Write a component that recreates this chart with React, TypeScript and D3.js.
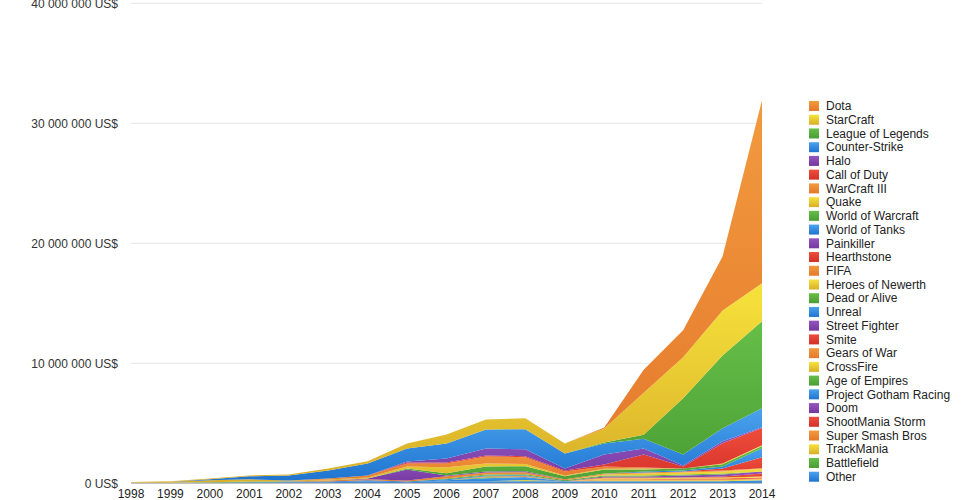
import * as d3 from 'd3'
import { useMemo } from 'react'

// prize money per game, millions of US$, 1998..2014
const years = d3.range(1998, 2015)

const dota = [0, 0, 0, 0, 0, 0, 0, 0, 0, 0, 0, 0, 0.08, 1.92, 2.25, 4.5, 15.25]
const starcraft = [0.03, 0.04, 0.08, 0.08, 0.08, 0.17, 0.17, 0.42, 0.75, 0.83, 0.92, 0.83, 1.17, 3.5, 3.42, 3.75, 3.17]
const leagueOfLegends = [0, 0, 0, 0, 0, 0, 0, 0, 0, 0, 0, 0, 0.08, 0.33, 4.67, 6.08, 7.25]
const counterStrike = [0, 0, 0.08, 0.25, 0.42, 0.67, 1.0, 1.08, 1.25, 1.58, 1.67, 1.25, 0.92, 0.83, 0.92, 1.08, 1.58]
const halo = [0, 0, 0, 0, 0, 0, 0, 0.08, 0.33, 0.58, 0.58, 0.17, 0.83, 0.5, 0.08, 0.17, 0.08]
const callOfDuty = [0, 0, 0, 0, 0, 0, 0, 0.08, 0.08, 0.08, 0.08, 0.08, 0.17, 1.08, 0.17, 1.67, 1.42]
const warcraft3 = [0, 0, 0, 0, 0, 0.08, 0.17, 0.25, 0.33, 0.58, 0.58, 0.33, 0.17, 0.08, 0, 0, 0]
const quake = [0.04, 0.08, 0.17, 0.17, 0.08, 0.08, 0.08, 0.17, 0.5, 0.25, 0.17, 0.08, 0.08, 0.08, 0, 0.08, 0.08]
const worldOfWarcraft = [0, 0, 0, 0, 0, 0, 0, 0.08, 0.17, 0.42, 0.42, 0.25, 0.33, 0.17, 0.17, 0.17, 0.17]
const worldOfTanks = [0, 0, 0, 0, 0, 0, 0, 0, 0, 0, 0, 0, 0, 0.08, 0.08, 0.17, 0.75]
const painkiller = [0, 0, 0, 0, 0, 0, 0.08, 0.92, 0.08, 0.08, 0.08, 0, 0, 0, 0, 0, 0]
const hearthstone = [0, 0, 0, 0, 0, 0, 0, 0, 0, 0, 0, 0, 0, 0, 0, 0.17, 0.92]
const fifa = [0, 0, 0, 0, 0, 0.08, 0.08, 0.08, 0.17, 0.17, 0.17, 0.08, 0.08, 0.08, 0.08, 0.08, 0.02]
const heroesOfNewerth = [0, 0, 0, 0, 0, 0, 0, 0, 0, 0, 0, 0, 0.08, 0.17, 0.17, 0.17, 0.25]
const deadOrAlive = [0, 0, 0, 0, 0, 0, 0, 0, 0.08, 0.08, 0.08, 0.08, 0.08, 0.08, 0.08, 0.08, 0]
const unreal = [0, 0, 0, 0, 0.08, 0.08, 0.08, 0.08, 0.08, 0.08, 0.08, 0, 0, 0, 0, 0, 0]
const streetFighter = [0, 0, 0, 0, 0, 0, 0, 0, 0, 0, 0, 0, 0.08, 0.08, 0.17, 0.17, 0.17]
const smite = [0, 0, 0, 0, 0, 0, 0, 0, 0, 0, 0, 0, 0, 0, 0, 0.08, 0.25]
const gearsOfWar = [0, 0, 0, 0, 0, 0, 0, 0, 0, 0.08, 0.08, 0, 0.08, 0.08, 0, 0, 0]
const crossFire = [0, 0, 0, 0, 0, 0, 0, 0, 0, 0, 0, 0, 0.08, 0.08, 0.08, 0.08, 0.08]
const ageOfEmpires = [0, 0, 0.04, 0.08, 0, 0, 0, 0, 0, 0.08, 0, 0, 0, 0, 0, 0, 0]
const projectGotham = [0, 0, 0, 0, 0, 0, 0, 0, 0.08, 0.25, 0.25, 0, 0, 0, 0, 0, 0]
const doom = [0.01, 0.01, 0, 0, 0, 0, 0, 0, 0, 0, 0, 0, 0, 0, 0, 0, 0]
const shootMania = [0, 0, 0, 0, 0, 0, 0, 0, 0, 0, 0, 0, 0, 0, 0.08, 0.08, 0.08]
const smashBros = [0, 0, 0, 0, 0, 0, 0, 0, 0, 0, 0, 0, 0.08, 0.08, 0.08, 0.08, 0.08]
const trackMania = [0, 0, 0, 0, 0, 0, 0, 0, 0, 0, 0.08, 0, 0.08, 0.08, 0.08, 0.08, 0.08]
const battlefield = [0, 0, 0, 0, 0, 0, 0, 0, 0, 0, 0.02, 0, 0, 0, 0, 0, 0]
const other = [0.02, 0.04, 0.04, 0.08, 0.08, 0.08, 0.17, 0.08, 0.17, 0.17, 0.17, 0.17, 0.17, 0.17, 0.17, 0.17, 0.25]

const series = [
  { name: 'Dota', values: dota },
  { name: 'StarCraft', values: starcraft },
  { name: 'League of Legends', values: leagueOfLegends },
  { name: 'Counter-Strike', values: counterStrike },
  { name: 'Halo', values: halo },
  { name: 'Call of Duty', values: callOfDuty },
  { name: 'WarCraft III', values: warcraft3 },
  { name: 'Quake', values: quake },
  { name: 'World of Warcraft', values: worldOfWarcraft },
  { name: 'World of Tanks', values: worldOfTanks },
  { name: 'Painkiller', values: painkiller },
  { name: 'Hearthstone', values: hearthstone },
  { name: 'FIFA', values: fifa },
  { name: 'Heroes of Newerth', values: heroesOfNewerth },
  { name: 'Dead or Alive', values: deadOrAlive },
  { name: 'Unreal', values: unreal },
  { name: 'Street Fighter', values: streetFighter },
  { name: 'Smite', values: smite },
  { name: 'Gears of War', values: gearsOfWar },
  { name: 'CrossFire', values: crossFire },
  { name: 'Age of Empires', values: ageOfEmpires },
  { name: 'Project Gotham Racing', values: projectGotham },
  { name: 'Doom', values: doom },
  { name: 'ShootMania Storm', values: shootMania },
  { name: 'Super Smash Bros', values: smashBros },
  { name: 'TrackMania', values: trackMania },
  { name: 'Battlefield', values: battlefield },
  { name: 'Other', values: other },
]

const yTicks = [0, 10, 20, 30, 40]

// palette cycles every 6 series: [top, bottom] of the gradient
const palette = [
  ['#f29a3e', '#e4782c'],
  ['#f7e33c', '#d8ae28'],
  ['#66bf48', '#4a9d33'],
  ['#4aa3ee', '#1f73cf'],
  ['#9356bf', '#7438a0'],
  ['#ef4d3b', '#d3302a'],
]

const width = 980
const height = 500
const x0 = 131
const x1 = 762
const y0 = 483.3
const y1 = 3.3

const fmt = (v: number) => (v === 0 ? '0 US$' : `${v} 000 000 US$`)

const App = () => {
  const x = d3.scaleLinear().domain([1998, 2014]).range([x0, x1])
  const y = d3.scaleLinear().domain([0, 40]).range([y0, y1])

  const layers = useMemo(() => {
    const rows = years.map((yr, i) => {
      const row: Record<string, number> = { year: yr }
      series.forEach((s) => (row[s.name] = s.values[i]))
      return row
    })
    const keys = series.map((s) => s.name).reverse()
    return d3.stack<Record<string, number>>().keys(keys)(rows)
  }, [])

  const area = d3
    .area<d3.SeriesPoint<Record<string, number>>>()
    .x((d) => x(d.data.year))
    .y0((d) => y(d[0]))
    .y1((d) => y(d[1]))

  const colorIndex = (name: string) => series.findIndex((s) => s.name === name) % 6

  return (
    <svg
      width={width}
      height={height}
      style={{ position: 'absolute', left: 0, top: 0, fontFamily: '"Liberation Sans", Arial, sans-serif' }}
    >
      <defs>
        {palette.map(([top, bottom], i) => (
          <linearGradient key={i} id={`g${i}`} x1="0" y1="0" x2="0" y2="1">
            <stop offset="0" stopColor={top} />
            <stop offset="1" stopColor={bottom} />
          </linearGradient>
        ))}
      </defs>

      {yTicks.map((t) => (
        <g key={t}>
          {t > 0 && <line x1={x0} x2={x1} y1={y(t)} y2={y(t)} stroke="#e6e6e6" strokeWidth={1} />}
          <text x={118} y={y(t)} dy="0.35em" textAnchor="end" fontSize={12} fill="#333">
            {fmt(t)}
          </text>
        </g>
      ))}

      {layers.map((layer) => (
        <path key={layer.key} d={area(layer) ?? ''} fill={`url(#g${colorIndex(layer.key)})`} />
      ))}

      <line x1={x0} x2={x1} y1={y0} y2={y0} stroke="#bbb" strokeWidth={1} />

      {years.map((yr) => (
        <text key={yr} x={x(yr)} y={494} dy="0.35em" textAnchor="middle" fontSize={12} fill="#222">
          {yr}
        </text>
      ))}

      {series.map((s, i) => (
        <g key={s.name} transform={`translate(809, ${106 + i * 13.73})`}>
          <rect x={0} y={-5} width={10} height={10} fill={`url(#g${i % 6})`} />
          <text x={17} y={0} dy="0.35em" fontSize={12} fill="#222">
            {s.name}
          </text>
        </g>
      ))}
    </svg>
  )
}

export default App
